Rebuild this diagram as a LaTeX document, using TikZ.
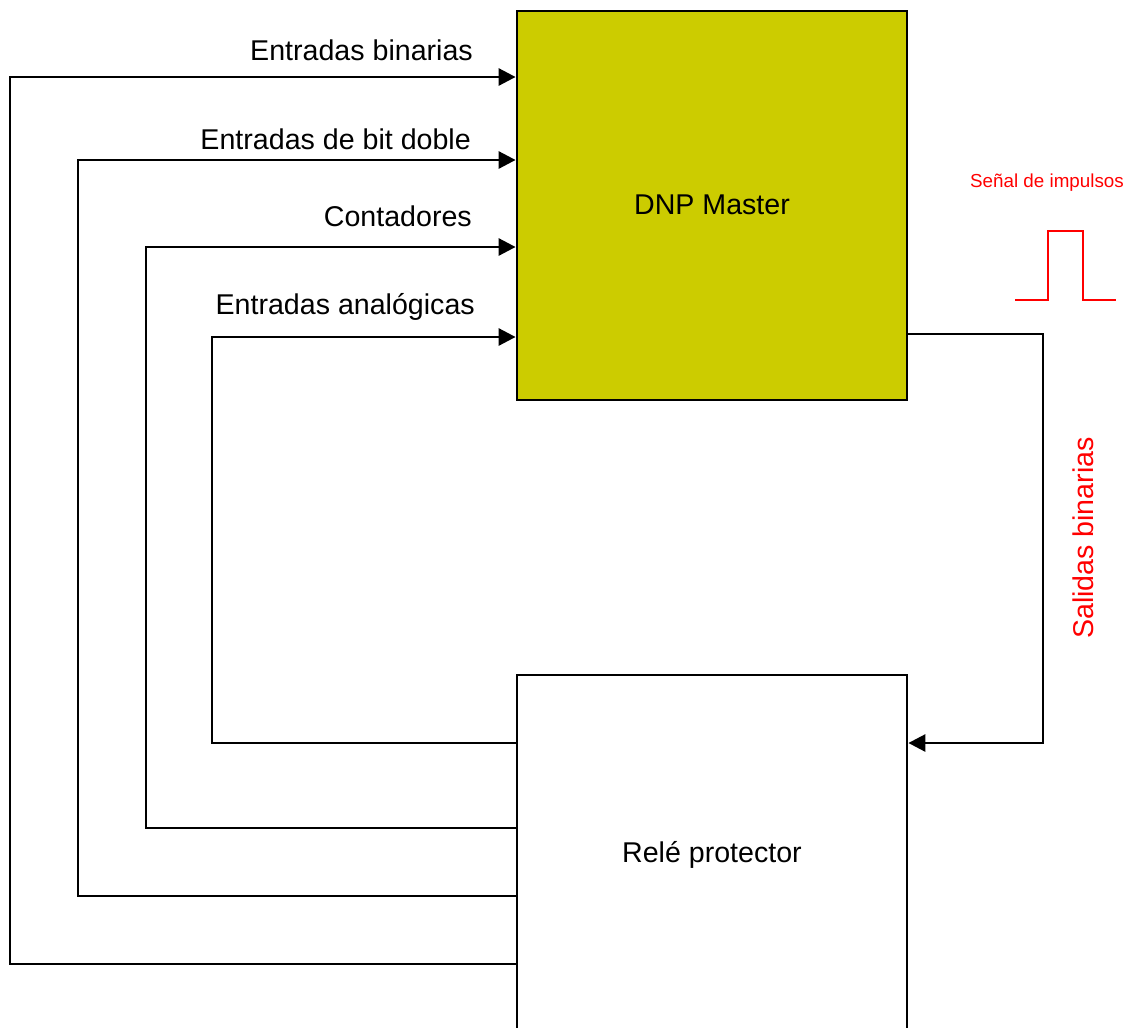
\documentclass[tikz,border=0pt]{standalone}
\usepackage{fontspec}
\setmainfont{Liberation Sans}
\usetikzlibrary{arrows.meta}
\definecolor{dnpyellow}{HTML}{CCCC00}
\definecolor{sigred}{HTML}{FF0000}
\begin{document}
\begin{tikzpicture}[x=1pt,y=-1pt,
  conn/.style={line width=2.8pt},
  arr/.style={conn,-{Triangle[length=17pt,width=17pt]}},
  blk/.style={draw,line width=2.8pt,rectangle,inner sep=0pt,minimum width=390pt},
  lbl/.style={font=\fontsize{28.6}{34}\selectfont,inner sep=0pt},
  red lbl/.style={text=sigred,inner sep=0pt}]
\useasboundingbox (0,0) rectangle (1128,1028);
\node[blk,fill=dnpyellow,minimum height=389pt] (master) at (712,205.5) {};
\node[lbl] (mtxt) at (712,205) {DNP Master};
\node[blk,minimum height=360pt] (rel) at (712,855) {};
\node[lbl] (rtxt) at (712,855) {Relé protector};
% inputs
\draw[arr] (rel.west |- 0,964) -- (10,964) -- (10,77) -- (master.west |- 0,77);
\draw[arr] (rel.west |- 0,896) -- (78,896) -- (78,160) -- (master.west |- 0,160);
\draw[arr] (rel.west |- 0,828) -- (146,828) -- (146,247) -- (master.west |- 0,247);
\draw[arr] (rel.west |- 0,743) -- (212,743) -- (212,337) -- (master.west |- 0,337);
\node[lbl,anchor=base east] (l1) at (473,60) {Entradas binarias};
\node[lbl,anchor=base east] (l2) at (471,149) {Entradas de bit doble};
\node[lbl,anchor=base east] (l3) at (472,226) {Contadores};
\node[lbl,anchor=base east] (l4) at (475,314) {Entradas analógicas};
% output
\draw[arr] (master.east |- 0,334) -| (1043,743) -- (rel.east |- 0,743);
\node[lbl,text=sigred,rotate=90] (out) at (1083,538) {Salidas binarias};
% pulse
\node[red lbl,font=\fontsize{18.8}{22}\selectfont,anchor=base] (sig) at (1047,187) {Señal de impulsos};
\draw[sigred,line width=2pt] (1015,300) -- (1048,300) -- (1048,231) -- (1083,231) -- (1083,300) -- (1116,300);
\end{tikzpicture}
\end{document}
